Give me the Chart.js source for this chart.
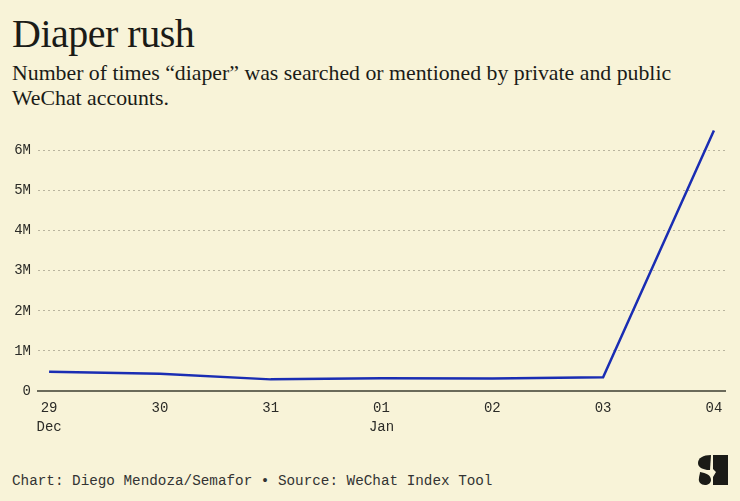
<!DOCTYPE html>
<html>
<head>
<meta charset="utf-8">
<script src="https://cdn.jsdelivr.net/npm/chart.js@4"></script>
<style>
  body { margin: 0; background: #f8f3d8; width: 740px; height: 501px; overflow: hidden; position: relative; }
  #title { position: absolute; left: 12px; top: 10px; font: 40px "Liberation Serif", serif; color: #1b1b17; letter-spacing: -0.5px; }
  #subtitle { position: absolute; left: 12px; top: 61px; font: 21.8px/25px "Liberation Serif", serif; color: #1b1b17; }
  #wrap { position: absolute; left: 0; top: 111px; width: 740px; height: 335px; }
  #footer { position: absolute; left: 12px; top: 473px; font: 14.3px "Liberation Mono", monospace; color: #333; }
  #logo { position: absolute; left: 697px; top: 455px; width: 31px; height: 30px; }
</style>
</head>
<body>
<div id="title">Diaper rush</div>
<div id="subtitle">Number of times “diaper” was searched or mentioned by private and public<br>WeChat accounts.</div>
<div id="wrap"><canvas id="chart"></canvas></div>
<div id="footer">Chart: Diego Mendoza/Semafor • Source: WeChat Index Tool</div>
<svg id="logo" viewBox="0 0 31 30">
  <path d="M16 0 L31 0 L31 30 L16 30 L16 22 L19 17 L16 14 Z" fill="#1b1b17"/>
  <path d="M14 0 C6 0 1 3 1 8 C1 12 5 14 10 15 L13 15 L14 0 Z" fill="#1b1b17"/>
  <path d="M3 17 C9 18 14 20 14 25 C14 28 11 30 8 30 C4 30 1 27 2 23 C2 21 3 19 3 17 Z" fill="#1b1b17"/>
</svg>
<script>
const days = ['29', '30', '31', '01', '02', '03', '04'];
const months = ['Dec', '', '', 'Jan', '', '', ''];
const mentions = [480000, 430000, 290000, 320000, 310000, 340000, 6500000];
const yTicks = [0, 1000000, 2000000, 3000000, 4000000, 5000000, 6000000];
const yTickLabels = ['0', '1M', '2M', '3M', '4M', '5M', '6M'];

const ctx = document.getElementById('chart').getContext('2d');

const chart = new Chart(ctx, {
    type: 'line',
    data: {
        datasets: [{
            data: mentions.map((v, i) => ({ x: i, y: v })),
            borderColor: '#1a2db3',
            borderWidth: 2.5,
            pointRadius: 0,
            tension: 0,
            fill: false
        }]
    },
    options: {
        responsive: true,
        maintainAspectRatio: false,
        animation: false,
        layout: { padding: { top: 5, right: 15, left: 0, bottom: 0 } },
        plugins: { legend: { display: false }, tooltip: { enabled: false } },
        scales: {
            x: {
                type: 'linear',
                min: -0.1,
                max: 6.1,
                afterBuildTicks: (axis) => { axis.ticks = days.map((d, i) => ({ value: i })); },
                afterFit: (axis) => { axis.height = 55; },
                grid: { display: false, drawTicks: false },
                border: { display: true, color: '#6b6a5a', width: 2 },
                ticks: {
                    padding: 8,
                    color: '#2b2b27',
                    font: { family: 'Liberation Mono', size: 14, lineHeight: 1.35 },
                    maxRotation: 0,
                    autoSkip: false,
                    callback: (v) => months[v] ? [days[v], months[v]] : [days[v]]
                }
            },
            y: {
                min: 0,
                max: 6600000,
                afterBuildTicks: (axis) => { axis.ticks = yTicks.map(v => ({ value: v })); },
                afterFit: (axis) => { axis.width = 38; },
                grid: {
                    drawTicks: false,
                    color: (c) => c.tick && c.tick.value === 0 ? 'rgba(0,0,0,0)' : '#b9b49e',
                    lineWidth: 1
                },
                border: { display: false, dash: [2, 3] },
                ticks: {
                    padding: 7,
                    color: '#2b2b27',
                    font: { family: 'Liberation Mono', size: 14 },
                    callback: (v) => yTickLabels[yTicks.indexOf(v)]
                }
            }
        }
    }
});
</script>
</body>
</html>
